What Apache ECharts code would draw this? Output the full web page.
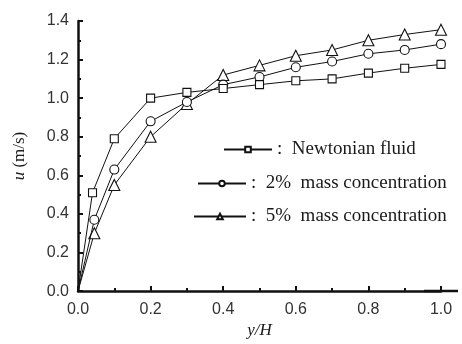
<!DOCTYPE html>
<html>
<head>
<meta charset="utf-8">
<script src="https://cdn.jsdelivr.net/npm/echarts@6/dist/echarts.min.js"></script>
<style>
  html, body { margin: 0; padding: 0; background: #fff; }
  #chart { width: 462px; height: 344px; }
</style>
</head>
<body>
<div id="chart"></div>
<script>
// Relative wall distance y/H for each profile
const xNewtonian = [0, 0.04, 0.1, 0.2, 0.3, 0.4, 0.5, 0.6, 0.7, 0.8, 0.9, 1.0];
const xConc2 = [0, 0.045, 0.1, 0.2, 0.3, 0.4, 0.5, 0.6, 0.7, 0.8, 0.9, 1.0];
const xConc5 = [0, 0.045, 0.1, 0.2, 0.3, 0.4, 0.5, 0.6, 0.7, 0.8, 0.9, 1.0];

// Velocity u (m/s)
const uNewtonian = [0, 0.51, 0.79, 1.00, 1.03, 1.05, 1.07, 1.09, 1.10, 1.13, 1.155, 1.175];
const uConc2 = [0, 0.37, 0.63, 0.88, 0.98, 1.07, 1.11, 1.16, 1.19, 1.23, 1.25, 1.28];
const uConc5 = [0, 0.30, 0.55, 0.80, 0.97, 1.12, 1.17, 1.22, 1.25, 1.30, 1.33, 1.355];

const seriesNames = ['Newtonian fluid', '2%  mass concentration', '5%  mass concentration'];
const seriesSymbols = ['rect', 'circle', 'triangle'];
const seriesSymbolSizes = [8, 9, 11];

// Axis tick labels
const xTickLabels = ['0.0', '0.2', '0.4', '0.6', '0.8', '1.0'];
const yTickLabels = ['0.0', '0.2', '0.4', '0.6', '0.8', '1.0', '1.2', '1.4'];

function pairs(xs, ys) {
  // the wall point sits on the axes and carries no marker
  return xs.map((x, i) => i === 0 ? { value: [x, ys[i]], symbol: 'none' } : [x, ys[i]]);
}

const ink = '#111';
const serif = '"Liberation Serif", "Times New Roman", serif';
const sans = '"Liberation Sans", Arial, sans-serif';

const chart = echarts.init(document.getElementById('chart'), null, { renderer: 'canvas' });

const dataSets = [pairs(xNewtonian, uNewtonian), pairs(xConc2, uConc2), pairs(xConc5, uConc5)];

const legendPlacement = [
  { left: 223, top: 140, w: 48 },
  { left: 197, top: 174, w: 48 },
  { left: 193, top: 207, w: 52 }
];

const option = {
  backgroundColor: '#fff',
  animation: false,
  grid: { left: 78, right: 21, top: 21, bottom: 46, containLabel: false },
  legend: seriesNames.map((name, i) => ({
    data: [name],
    left: legendPlacement[i].left,
    top: legendPlacement[i].top,
    orient: 'horizontal',
    padding: 0,
    itemWidth: legendPlacement[i].w,
    itemHeight: 7,
    selectedMode: false,
    formatter: n => ':  ' + n,
    textStyle: { fontFamily: serif, fontSize: 19, color: '#1a1a1a' }
  })),
  xAxis: {
    type: 'value',
    min: 0,
    max: 1,
    interval: 0.2,
    name: 'y/H',
    nameLocation: 'middle',
    nameGap: 28,
    nameTextStyle: { fontFamily: serif, fontStyle: 'italic', fontSize: 17, color: '#1a1a1a' },
    axisLine: {
      lineStyle: { color: ink, width: 2.5 },
      symbol: ['none', 'rect'],
      symbolSize: [2.5, 34]
    },
    axisTick: { inside: true, length: 5, lineStyle: { color: ink, width: 2 } },
    minorTick: { show: true, splitNumber: 2, length: 3, lineStyle: { color: ink, width: 2 } },
    axisLabel: {
      margin: 10,
      fontFamily: sans,
      fontSize: 16,
      color: '#333',
      formatter: v => xTickLabels[Math.round(v / 0.2)] || ''
    },
    splitLine: { show: false }
  },
  yAxis: {
    type: 'value',
    min: 0,
    max: 1.4,
    interval: 0.2,
    name: '{it|u} (m/s)',
    nameLocation: 'middle',
    nameGap: 50,
    nameRotate: 90,
    nameTextStyle: {
      fontFamily: serif,
      fontSize: 17,
      color: '#1a1a1a',
      rich: { it: { fontFamily: serif, fontStyle: 'italic', fontSize: 17, color: '#1a1a1a' } }
    },
    axisLine: { show: true, lineStyle: { color: ink, width: 2.5 } },
    axisTick: { inside: true, length: 5, lineStyle: { color: ink, width: 2 } },
    minorTick: { show: true, splitNumber: 2, length: 3, lineStyle: { color: ink, width: 2 } },
    axisLabel: {
      margin: 9,
      fontFamily: sans,
      fontSize: 16,
      color: '#333',
      formatter: v => yTickLabels[Math.round(v / 0.2)] || ''
    },
    splitLine: { show: false }
  },
  series: seriesNames.map((name, i) => ({
    name: name,
    type: 'line',
    data: dataSets[i],
    symbol: seriesSymbols[i],
    symbolSize: seriesSymbolSizes[i],
    showAllSymbol: true,
    clip: false,
    lineStyle: { color: ink, width: 1 },
    itemStyle: { color: '#fff', borderColor: ink, borderWidth: 1.1 },
    z: 3 - i
  }))
};

chart.setOption(option);
</script>
</body>
</html>
